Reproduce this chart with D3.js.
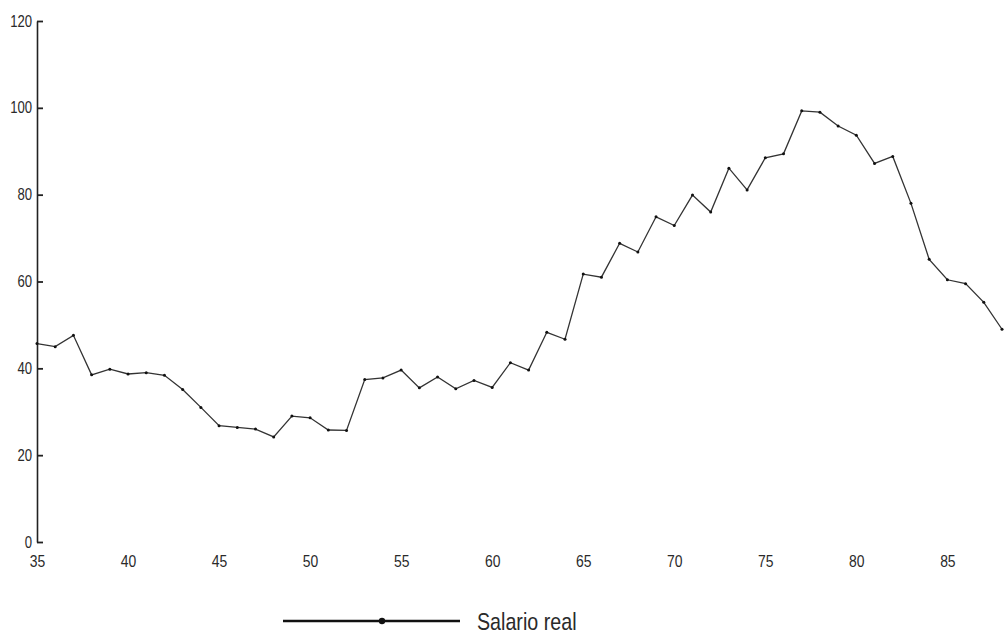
<!DOCTYPE html>
<html>
<head>
<meta charset="utf-8">
<script src="https://cdn.jsdelivr.net/npm/d3@7"></script>
<style>
  html, body { margin: 0; padding: 0; background: #ffffff; }
  svg { display: block; }
  text { font-family: "Liberation Sans Narrow", "Liberation Sans", Arial, sans-serif; fill: #2a2a2a; }
</style>
</head>
<body>
<svg id="chart" width="1005" height="637"></svg>
<script>
// ---- data ----
const years = [1935,1936,1937,1938,1939,1940,1941,1942,1943,1944,
               1945,1946,1947,1948,1949,1950,1951,1952,1953,1954,
               1955,1956,1957,1958,1959,1960,1961,1962,1963,1964,
               1965,1966,1967,1968,1969,1970,1971,1972,1973,1974,
               1975,1976,1977,1978,1979,1980,1981,1982,1983,1984,
               1985,1986,1987,1988];
const salarioReal = [45.7,45.0,47.6,38.5,39.8,38.7,39.0,38.4,35.1,31.0,
                     26.8,26.4,26.0,24.2,29.0,28.6,25.8,25.7,37.4,37.8,
                     39.6,35.5,38.0,35.3,37.2,35.6,41.3,39.6,48.3,46.7,
                     61.7,61.0,68.8,66.8,74.9,72.9,79.9,76.0,86.1,81.1,
                     88.5,89.4,99.3,99.0,95.8,93.7,87.2,88.8,78.0,65.1,
                     60.4,59.5,55.2,49.0];
const xTickYears = [1935,1940,1945,1950,1955,1960,1965,1970,1975,1980,1985];
const xTickLabels = ["35","40","45","50","55","60","65","70","75","80","85"];
const yTicks = [0,20,40,60,80,100,120];
const seriesName = "Salario real";

// ---- drawing ----
const svg = d3.select("#chart");
const data = years.map((y, i) => ({ year: y, value: salarioReal[i] }));
const condense = "scale(0.82,1)";

const x = d3.scaleLinear().domain([1935, 1988]).range([37, 1002]);
const y = d3.scaleLinear().domain([0, 120]).range([542, 21]);

// Y axis (ticks point inward)
const yAxis = d3.axisLeft(y)
  .tickValues(yTicks)
  .tickSizeInner(-6)
  .tickSizeOuter(0)
  .tickPadding(6)
  .tickFormat(d3.format("d"));
const gy = svg.append("g").attr("transform", "translate(37,0)").call(yAxis);
gy.select(".domain").attr("stroke", "#222").attr("stroke-width", 1.6);
gy.selectAll(".tick line").attr("stroke", "#222").attr("stroke-width", 1.8);
gy.selectAll(".tick text")
  .attr("font-size", 16).attr("fill", "#2e2e2e")
  .attr("font-family", "Liberation Sans, Arial, sans-serif")
  .attr("transform", condense);

// X axis labels only (no line, no ticks)
const labelMap = new Map(xTickYears.map((yr, i) => [yr, xTickLabels[i]]));
const xAxis = d3.axisBottom(x)
  .tickValues(xTickYears)
  .tickSize(0)
  .tickPadding(6)
  .tickFormat(d => labelMap.get(d));
const gx = svg.append("g").attr("transform", "translate(0,549)").call(xAxis);
gx.select(".domain").remove();
gx.selectAll(".tick text")
  .attr("font-size", 17).attr("fill", "#2e2e2e")
  .attr("font-family", "Liberation Sans, Arial, sans-serif")
  .attr("transform", condense);

// Line
const line = d3.line().x(d => x(d.year)).y(d => y(d.value));
svg.append("path")
  .datum(data)
  .attr("fill", "none")
  .attr("stroke", "#333")
  .attr("stroke-width", 1.3)
  .attr("d", line);

svg.append("g").selectAll("circle")
  .data(data)
  .join("circle")
  .attr("cx", d => x(d.year))
  .attr("cy", d => y(d.value))
  .attr("r", 1.5)
  .attr("fill", "#111");

// Legend
const lg = svg.append("g").attr("transform", "translate(283,621)");
lg.append("line").attr("x1", 0).attr("x2", 177).attr("y1", 0).attr("y2", 0)
  .attr("stroke", "#111").attr("stroke-width", 2.4);
lg.append("circle").attr("cx", 99).attr("cy", 0).attr("r", 3.2).attr("fill", "#111");
lg.append("g").attr("transform", "translate(194,9) " + condense)
  .append("text").attr("x", 0).attr("y", 0)
  .attr("font-size", 24)
  .attr("font-family", "Liberation Sans, Arial, sans-serif")
  .attr("fill", "#222").text(seriesName);
</script>
</body>
</html>
